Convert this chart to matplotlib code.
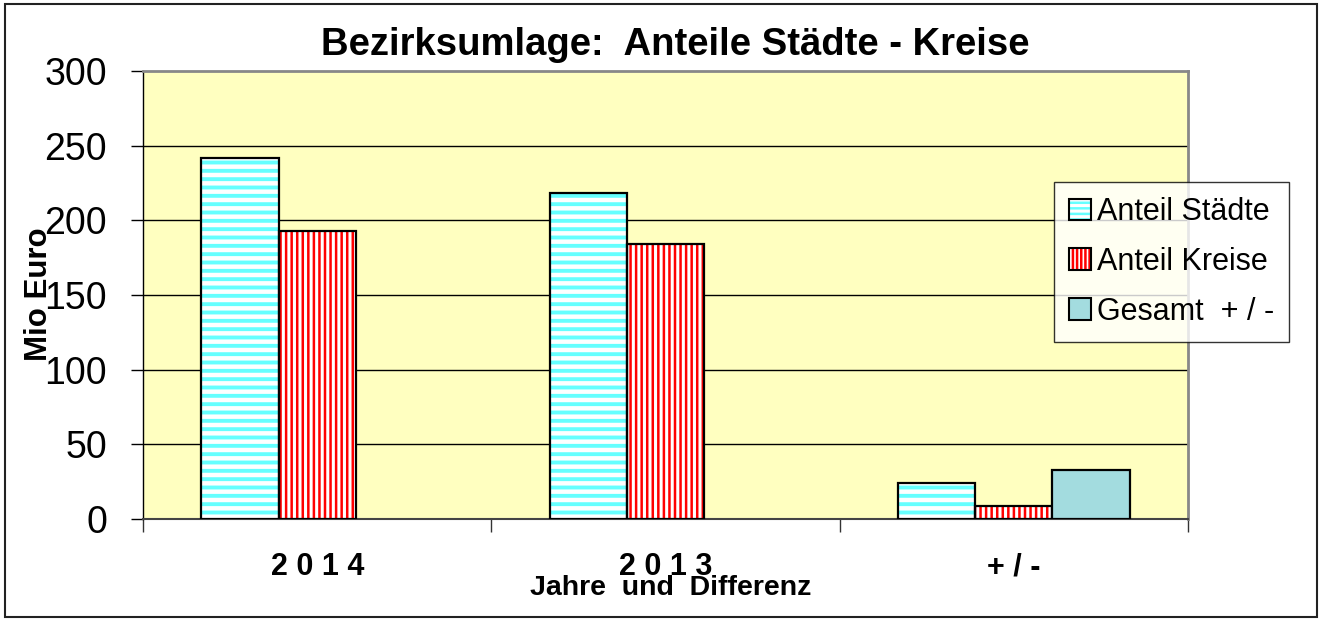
import matplotlib.pyplot as plt
import numpy as np
from matplotlib.patches import Patch, Rectangle

plt.rcParams['font.family'] = ['Liberation Sans', 'DejaVu Sans']

# Data (Mio Euro)
categories = ['2 0 1 4', '2 0 1 3', '+ / -']
staedte = [242, 218, 24]
kreise = [193, 184, 9]
gesamt = [0, 0, 33]
yticks = [0, 50, 100, 150, 200, 250, 300]

cyan = '#66ffff'
red = '#ff0000'
teal = '#a3dcdf'
bg = '#ffffc0'

fig = plt.figure(figsize=(13.21, 6.21), dpi=100)
ax = fig.add_axes([0.1083, 0.1643, 0.7910, 0.7214])
ax.set_facecolor(bg)

x = np.arange(len(categories))
w = 0.2215


def hatched_bars(pos, vals, color, hatch, hlw):
    # hatch first (hatch takes the edge colour), then a black outline on top
    bars = ax.bar(pos, vals, w, color='white', edgecolor=color, hatch=hatch,
                  linewidth=0, zorder=3)
    for b in bars:
        if hasattr(b, 'set_hatch_linewidth'):
            b.set_hatch_linewidth(hlw)
    ax.bar(pos, vals, w, facecolor='none', edgecolor='black', linewidth=1.6,
           zorder=4)


plt.rcParams['hatch.linewidth'] = 2.8
hatched_bars(x - w, staedte, cyan, '--', 2.8)
plt.rcParams['hatch.linewidth'] = 1.8
hatched_bars(x, kreise, red, '|||', 1.8)
ax.bar(x[2:] + w, gesamt[2:], w, color=teal, edgecolor='black', linewidth=1.6,
       zorder=4)

ax.set_xlim(-0.5, 2.5)
ax.set_ylim(0, 300)
ax.set_yticks(yticks)
ax.set_yticklabels([str(v) for v in yticks], fontsize=27)
ax.tick_params(axis='y', direction='out', length=9, width=1, pad=17)

# category boundaries as ticks, labels in between
ax.set_xticks([-0.5, 0.5, 1.5, 2.5])
ax.set_xticklabels([])
ax.set_xticks(x, minor=True)
ax.set_xticklabels(categories, minor=True, fontsize=22, fontweight='bold')
ax.tick_params(axis='x', which='major', direction='out', length=9, width=1,
               color='#333333')
ax.tick_params(axis='x', which='minor', length=0, pad=24)

for v in yticks[1:-1]:
    ax.axhline(v, color='black', linewidth=1, zorder=1)

ax.spines['top'].set_color('#888888')
ax.spines['right'].set_color('#888888')
ax.spines['top'].set_linewidth(2)
ax.spines['right'].set_linewidth(2)
ax.spines['left'].set_linewidth(1)
ax.spines['bottom'].set_color('#444444')
ax.spines['bottom'].set_linewidth(1.5)

fig.text(0.511, 0.928, 'Bezirksumlage:  Anteile Städte - Kreise',
         fontsize=27.5, fontweight='bold', ha='center', va='center')
fig.text(0.508, 0.053, 'Jahre  und  Differenz', fontsize=20.5,
         fontweight='bold', ha='center', va='center')
fig.text(0.0295, 0.527, 'Mio Euro', fontsize=22.5, fontweight='bold',
         rotation=90, ha='center', va='center')

# legend with hatched swatches
h1 = (Patch(facecolor='white', edgecolor=cyan, hatch='---', linewidth=0),
      Patch(facecolor='none', edgecolor='black', linewidth=1.5))
h2 = (Patch(facecolor='white', edgecolor=red, hatch='||||', linewidth=0),
      Patch(facecolor='none', edgecolor='black', linewidth=1.5))
h3 = Patch(facecolor=teal, edgecolor='black', linewidth=1.5)
leg = fig.legend([h1, h2, h3], ['Anteil Städte', 'Anteil Kreise', 'Gesamt  + / -'],
                 loc='center', bbox_to_anchor=(0.783, 0.449, 0.208, 0.259),
                 fontsize=22, frameon=True, fancybox=False, handlelength=0.7,
                 handleheight=0.7, handletextpad=0.2, labelspacing=0.65,
                 borderpad=0.5)
leg.get_frame().set_edgecolor('black')
leg.get_frame().set_linewidth(1)

# outer frame of the chart
fig.patches.append(Rectangle((0.004, 0.006), 0.993, 0.988, transform=fig.transFigure,
                             fill=False, edgecolor='#222222', linewidth=1.5))

fig.savefig('out.png', dpi=100)
